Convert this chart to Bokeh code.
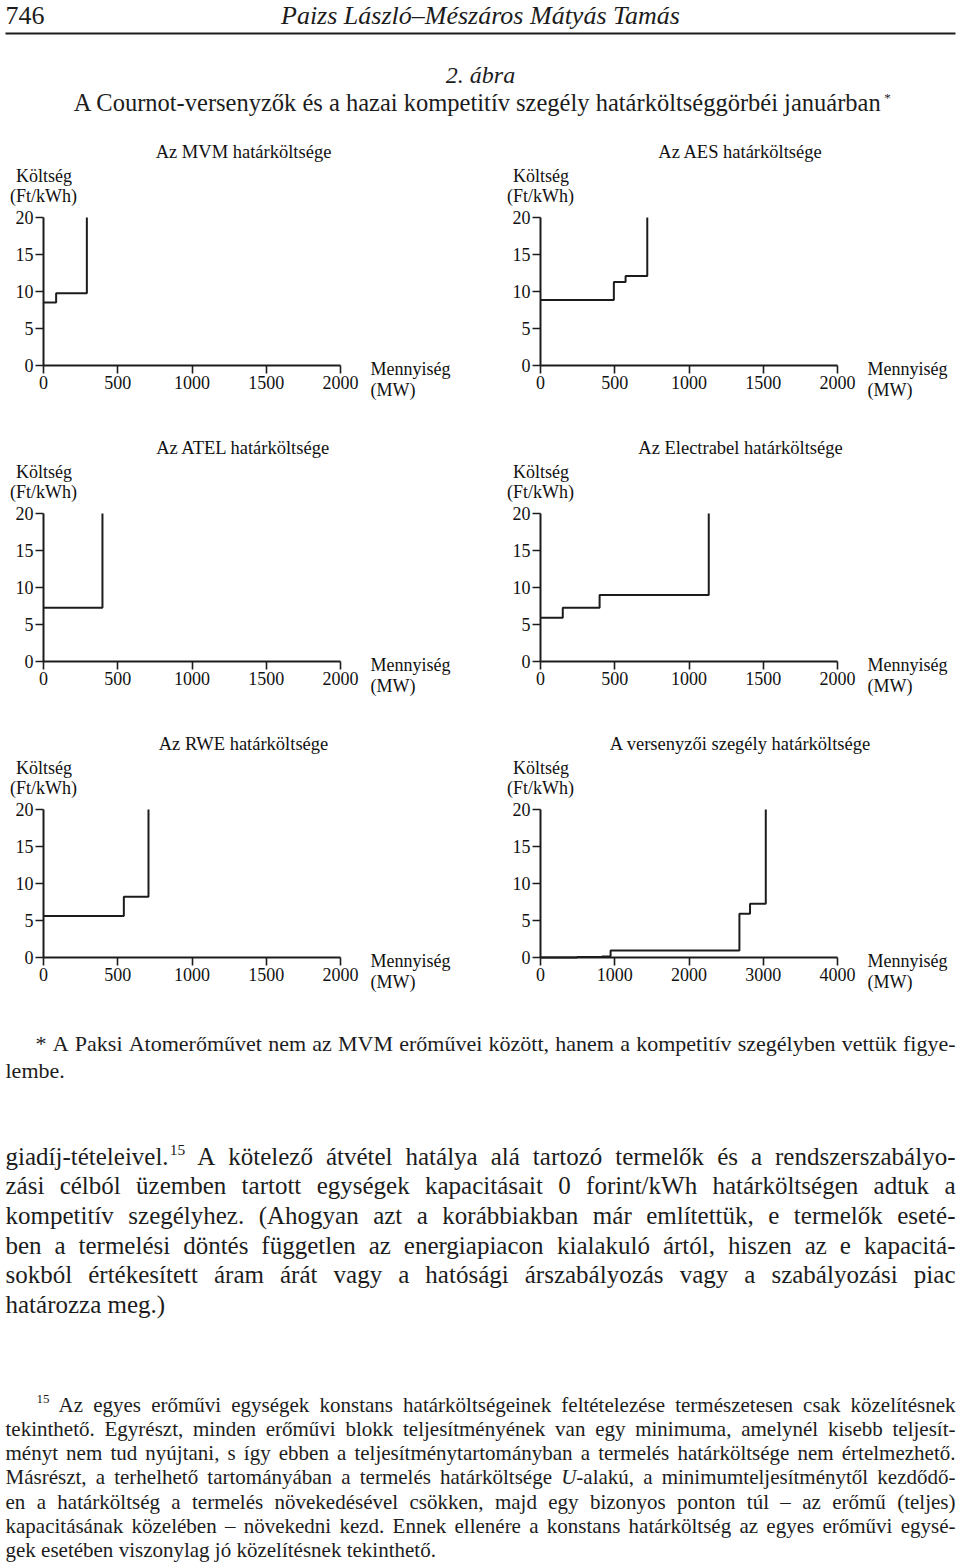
import re
from bokeh.plotting import figure
from bokeh.layouts import column, row
from bokeh.models import Range1d, FixedTicker, LinearAxis
from bokeh.core.properties import value
from bokeh.embed import file_html
from bokeh.resources import INLINE

FONT = "Liberation Serif"
INK = "#1c1c1c"
K = 0.33   # baseline compensation (fraction of font size)

# ---------------- data ----------------
chart_titles = ["Az MVM határköltsége", "Az AES határköltsége",
                "Az ATEL határköltsége", "Az Electrabel határköltsége",
                "Az RWE határköltsége", "A versenyzői szegély határköltsége"]
mvm_q = [0, 85, 292]
mvm_c = [8.5, 9.75, 20]
aes_q = [0, 494, 573, 719]
aes_c = [8.85, 11.3, 12.1, 20]
atel_q = [0, 397]
atel_c = [7.25, 20]
electrabel_q = [0, 150, 398, 1133]
electrabel_c = [5.9, 7.25, 9.0, 20]
rwe_q = [0, 541, 707]
rwe_c = [5.6, 8.2, 20]
fringe_q = [0, 494, 830, 944, 2679, 2822, 3034]
fringe_c = [0.0, 0.08, 0.15, 0.95, 5.9, 7.25, 20]
x_ticks_small = [0, 500, 1000, 1500, 2000]
x_ticks_fringe = [0, 1000, 2000, 3000, 4000]
y_ticks = [0, 5, 10, 15, 20]
y_label = ["Költség", "(Ft/kWh)"]
x_label = ["Mennyiség", "(MW)"]

page_header = ["746", "Paizs László–Mészáros Mátyás Tamás"]
fig_number = "2. ábra"
fig_title = "A Cournot-versenyzők és a hazai kompetitív szegély határköltséggörbéi januárban"

note_star = ["* A Paksi Atomerőművet nem az MVM erőművei között, hanem a kompetitív szegélyben vettük figye-",
             "lembe."]
body = ["giadíj-tételeivel.{15} A kötelező átvétel hatálya alá tartozó termelők és a rendszerszabályo-",
        "zási célból üzemben tartott egységek kapacitásait 0 forint/kWh határköltségen adtuk a",
        "kompetitív szegélyhez. (Ahogyan azt a korábbiakban már említettük, e termelők eseté-",
        "ben a termelési döntés független az energiapiacon kialakuló ártól, hiszen az e kapacitá-",
        "sokból értékesített áram árát vagy a hatósági árszabályozás vagy a szabályozási piac",
        "határozza meg.)"]
note_15 = ["{15} Az egyes erőművi egységek konstans határköltségeinek feltételezése természetesen csak közelítésnek",
           "tekinthető. Egyrészt, minden erőművi blokk teljesítményének van egy minimuma, amelynél kisebb teljesít-",
           "ményt nem tud nyújtani, s így ebben a teljesítménytartományban a termelés határköltsége nem értelmezhető.",
           "Másrészt, a terhelhető tartományában a termelés határköltsége [U]-alakú, a minimumteljesítménytől kezdődő-",
           "en a határköltség a termelés növekedésével csökken, majd egy bizonyos ponton túl – az erőmű (teljes)",
           "kapacitásának közelében – növekedni kezd. Ennek ellenére a konstans határköltség az egyes erőművi egysé-",
           "gek esetében viszonylag jó közelítésnek tekinthető."]


# ---------------- font metrics (Times-compatible) ----------------
def table(spec):
    d = {}
    for chars, w in spec:
        for ch in chars:
            d[ch] = w
    return d


W_REG = table([("bdghknopquvxyóöőúüű0123456789–*", 0.5), ("aceáéz", 0.444),
               ("fr-()", 0.333), ("ijltí/:", 0.278), ("s", 0.389), ("m", 0.778),
               ("w", 0.722), (" .,", 0.25), ("AKNOUVXYDGH", 0.722), ("BCR", 0.667),
               ("ELTZ", 0.611), ("FPS", 0.556), ("M", 0.889), ("W", 0.944), ("I", 0.333)])
W_IT = table([("abdghnopquóöőúüűá0123456789–", 0.5), ("cekvxyé", 0.444),
              ("ijltfí", 0.278), ("rsz", 0.389), ("m", 0.722), ("w", 0.667),
              (" .,", 0.25), ("U", 0.722), ("AP", 0.611), ("LT", 0.556), ("M", 0.833)])
SUP = 0.62


def em(text, kind="reg"):
    tab = W_IT if kind == "ital" else W_REG
    w = sum(tab.get(ch, 0.5) for ch in text)
    return w * SUP if kind == "sup" else w


def parse(tok):
    out = []
    for m in re.finditer(r"\{([^}]*)\}|\[([^\]]*)\]|([^{\[]+)", tok):
        if m.group(1) is not None:
            out.append((m.group(1), "sup"))
        elif m.group(2) is not None:
            out.append((m.group(2), "ital"))
        else:
            out.append((m.group(3), "reg"))
    return out


def set_block(items, lines, x_first, x_left, x_right, y0, lead, fs_want):
    toks = [[parse(t) for t in ln.split(" ")] for ln in lines]
    fs = fs_want
    for i, ln in enumerate(toks[:-1]):
        left = x_first if i == 0 else x_left
        e = sum(em(*s) for t in ln for s in t)
        fs = min(fs, (x_right - left) / (e + 0.22 * (len(ln) - 1)))
    for i, ln in enumerate(toks):
        left = x_first if i == 0 else x_left
        y = y0 + i * lead
        wems = [sum(em(*s) for s in t) for t in ln]
        n = len(ln) - 1
        if i < len(toks) - 1 and n > 0:
            gap = (x_right - left - sum(wems) * fs) / n
        else:
            gap = 0.25 * fs
        x = left
        for t, we in zip(ln, wems):
            xx = x
            for text, kind in t:
                if kind == "sup":
                    items.append((xx + 1, y - 0.38 * fs, text, round(SUP * fs, 2), "normal", "left"))
                elif kind == "ital":
                    items.append((xx, y, text, round(fs, 2), "italic", "left"))
                else:
                    items.append((xx, y, text, round(fs, 2), "normal", "left"))
                xx += em(text, kind) * fs
            x += we * fs + gap


def page_fig(w, h):
    return figure(width=w, height=h, x_range=Range1d(0, w), y_range=Range1d(h, 0),
                  min_border=0, toolbar_location=None, output_backend="svg", title=None,
                  x_axis_type=None, y_axis_type=None, outline_line_color=None,
                  background_fill_color="white", border_fill_color="white")


def draw_items(p, items):
    groups = {}
    for x, y, t, s, st, al in items:
        groups.setdefault((s, st, al), []).append((x, y - K * s, t))
    for (s, st, al), lst in groups.items():
        p.text(x=[a[0] for a in lst], y=[a[1] for a in lst], text=[a[2] for a in lst],
               text_font=value(FONT), text_font_size=value(f"{s}px"),
               text_font_style=value(st), text_align=value(al),
               text_baseline=value("alphabetic"), text_color=INK)


PAGE_W = 960

# ---------------- header (page y 0..138) ----------------
header = page_fig(PAGE_W, 138)
hitems = [(5, 24, page_header[0], 26, "normal", "left"),
          (480, 24, page_header[1], 26, "italic", "center"),
          (480, 82, fig_number, 24, "italic", "center")]
TS = 24.5
tw = em(fig_title) * TS
tleft = 477.5 - tw / 2
hitems.append((tleft, 110, fig_title, TS, "normal", "left"))
hitems.append((tleft + tw + 2, 101, "*", 13, "normal", "left"))
draw_items(header, hitems)
header.segment(x0=[5], y0=[33], x1=[955], y1=[33], line_color=INK, line_width=2)

# ---------------- charts ----------------
FRAME_W, FRAME_H = 297, 148
TOP, FIG_H = 79, 296


def chart(title, q, c, xmax, xticks, axis_px, fig_w):
    dx = xmax / FRAME_W
    dy = 20 / FRAME_H
    p = figure(width=fig_w, height=FIG_H,
               x_range=Range1d(-axis_px * dx, (fig_w - axis_px) * dx),
               y_range=Range1d(20 - (FIG_H - TOP) * dy, 20 + TOP * dy),
               min_border=0, x_axis_type=None, y_axis_type=None,
               toolbar_location=None, output_backend="svg", title=None,
               outline_line_color=None, background_fill_color="white",
               border_fill_color="white")
    xa = LinearAxis(fixed_location=0, bounds=(0, xmax), ticker=FixedTicker(ticks=xticks))
    ya = LinearAxis(fixed_location=0, bounds=(0, 20), ticker=FixedTicker(ticks=y_ticks))
    for ax in (xa, ya):
        ax.axis_line_width = 2
        ax.axis_line_color = INK
        ax.major_tick_line_width = 1.6
        ax.major_tick_line_color = INK
        ax.major_tick_out = 8
        ax.major_tick_in = 0
        ax.minor_tick_line_color = None
        ax.major_label_text_font = FONT
        ax.major_label_text_font_size = "18px"
        ax.major_label_text_color = "#111111"
        ax.major_label_standoff = 2
    p.add_layout(xa, "below")
    p.add_layout(ya, "left")
    p.step(q, c, mode="after", line_width=2, line_color=INK)

    def lab(texts, xs, ys_px, align, size):
        ys = [20 + (v + K * size) * dy for v in ys_px]
        p.text(x=xs, y=ys, text=texts, text_font=value(FONT),
               text_font_size=value(f"{size}px"), text_align=value(align),
               text_baseline=value("alphabetic"), text_color="#111111")
    # vertical positions given in px above the top of the value axis
    lab([title], [200 * dx], [59.5], "center", 18.5)
    lab(y_label, [0.5 * dx, 0.0], [36, 16], "center", 18)
    lab(x_label, [xmax + 30 * dx] * 2, [-FRAME_H - 9, -FRAME_H - 30], "left", 18)
    return p


LW, RW = 488, 472
c1 = chart(chart_titles[0], mvm_q, mvm_c, 2000, x_ticks_small, 43, LW)
c2 = chart(chart_titles[1], aes_q, aes_c, 2000, x_ticks_small, 52, RW)
c3 = chart(chart_titles[2], atel_q, atel_c, 2000, x_ticks_small, 43, LW)
c4 = chart(chart_titles[3], electrabel_q, electrabel_c, 2000, x_ticks_small, 52, RW)
c5 = chart(chart_titles[4], rwe_q, rwe_c, 2000, x_ticks_small, 43, LW)
c6 = chart(chart_titles[5], fringe_q, fringe_c, 4000, x_ticks_fringe, 52, RW)

# ---------------- footer text (page y 1026..1566) ----------------
footer = page_fig(PAGE_W, 540)
fitems = []
set_block(fitems, note_star, 35, 5, 955, 24, 27, 22)
set_block(fitems, body, 5, 5, 955, 138, 29.6, 25)
set_block(fitems, note_15, 35, 5, 955, 385, 24.3, 21)
draw_items(footer, fitems)

layout = column(header, row(c1, c2), row(c3, c4), row(c5, c6), footer)

open("out.html", "w").write(file_html(layout, INLINE, title="2. ábra"))
